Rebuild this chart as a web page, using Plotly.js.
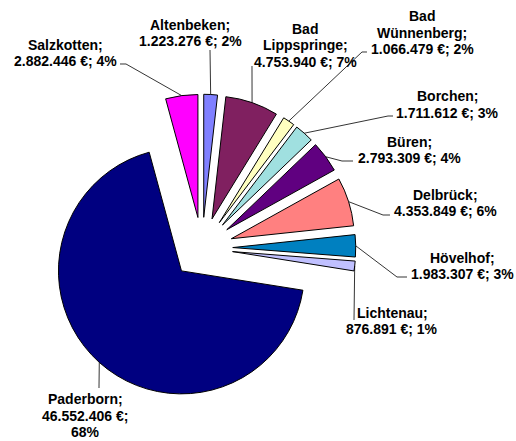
<!DOCTYPE html>
<html>
<head>
<meta charset="utf-8">
<script src="https://cdn.plot.ly/plotly-3.0.1.min.js"></script>
<style>html,body{margin:0;padding:0;background:#fff;}#chart{width:516px;height:441px;}</style>
</head>
<body>
<div id="chart"></div>
<script>
// ---- data ----
const gemeinden = ['Altenbeken', 'Bad Lippspringe', 'Bad Wünnenberg', 'Borchen', 'Büren', 'Delbrück', 'Hövelhof', 'Lichtenau', 'Paderborn', 'Salzkotten'];
const betraege = [1223276, 4753940, 1066479, 1711612, 2793309, 4353849, 1983307, 876891, 46552406, 2882446];
const farben = ['#8080FF', '#802060', '#FFFFC0', '#A0E0E0', '#600080', '#FF8080', '#0080C0', '#C0C0FF', '#000080', '#FF00FF'];

// ---- layout constants (pixels) ----
const W = 516, H = 441;
const CX = 202, CY = 248, R = 123, PULL = 0.25;
const half = R * (1 + PULL);
const LINE_GAP = 16.5;

// label placement: centre of text block, line-break mode, leader path points (label side)
const labelLayout = [
  {x: 190, y: 33, mode: 'std', path: [[210, 50]]},
  {x: 305, y: 45.5, mode: 'bad', path: [[252, 66]]},
  {x: 422, y: 32.5, mode: 'bad', path: [[367, 52], [362, 52]]},
  {x: 447, y: 104.5, mode: 'std', path: [[393, 116], [388, 116]]},
  {x: 409, y: 150, mode: 'std', path: [[353, 161], [342, 161]]},
  {x: 445, y: 203, mode: 'std', path: [[390, 215], [383, 215]]},
  {x: 462, y: 266, mode: 'std', path: [[407, 277], [397, 277]]},
  {x: 392, y: 321, mode: 'std', path: [[354, 320]]},
  {x: 85, y: 415.5, mode: 'three', path: [[99, 388]]},
  {x: 65, y: 53, mode: 'std', path: [[120, 64], [126, 64]]}
];

function fmt(n) { return String(n).replace(/\B(?=(\d{3})+(?!\d))/g, '.'); }
const total = betraege.reduce((a, b) => a + b, 0);
const px = x => x / W;
const py = y => 1 - y / H;

const annotations = [];
const shapes = [];
let cum = 0;
gemeinden.forEach((g, i) => {
  const v = betraege[i];
  const p = Math.round(v / total * 100);
  const L = labelLayout[i];
  let lines;
  if (L.mode === 'bad') lines = g.split(' ').map((s, k, arr) => k === arr.length - 1 ? s + ';' : s).concat([fmt(v) + ' €; ' + p + '%']);
  else if (L.mode === 'three') lines = [g + ';', fmt(v) + ' €;', p + '%'];
  else lines = [g + ';', fmt(v) + ' €; ' + p + '%'];
  lines.forEach((t, k) => {
    const ly = L.y + (k - (lines.length - 1) / 2) * LINE_GAP;
    annotations.push({
      xref: 'paper', yref: 'paper', x: px(L.x), y: py(ly),
      xanchor: 'center', yanchor: 'middle', align: 'center', showarrow: false,
      text: t,
      font: {family: 'Liberation Sans, Arial, sans-serif', size: 14, color: '#000', weight: 'bold'}
    });
  });
  // leader line to outer arc midpoint of the pulled slice
  const a0 = cum / total * 2 * Math.PI;
  cum += v;
  const a1 = cum / total * 2 * Math.PI;
  const am = (a0 + a1) / 2;
  const ex = CX + (R + R * PULL) * Math.sin(am);
  const ey = CY - (R + R * PULL) * Math.cos(am);
  let d = '';
  L.path.forEach((pt, k) => { d += (k === 0 ? 'M' : 'L') + px(pt[0]).toFixed(5) + ',' + py(pt[1]).toFixed(5) + ' '; });
  d += 'L' + px(ex).toFixed(5) + ',' + py(ey).toFixed(5);
  shapes.push({type: 'path', xref: 'paper', yref: 'paper', path: d, line: {color: '#000', width: 0.8}});
});

const trace = {
  type: 'pie',
  labels: gemeinden,
  values: betraege,
  sort: false,
  direction: 'clockwise',
  rotation: 0,
  pull: gemeinden.map(() => PULL),
  marker: {colors: farben, line: {color: '#000', width: 1}},
  textinfo: 'none',
  hoverinfo: 'label+value+percent',
  domain: {
    x: [(CX - half) / W, (CX + half) / W],
    y: [(H - CY - half) / H, (H - CY + half) / H]
  }
};

const layout = {
  width: W, height: H,
  margin: {l: 0, r: 0, t: 0, b: 0, autoexpand: false},
  showlegend: false,
  paper_bgcolor: '#fff',
  annotations: annotations,
  shapes: shapes
};

Plotly.newPlot('chart', [trace], layout, {displayModeBar: false, staticPlot: true});
</script>
</body>
</html>
